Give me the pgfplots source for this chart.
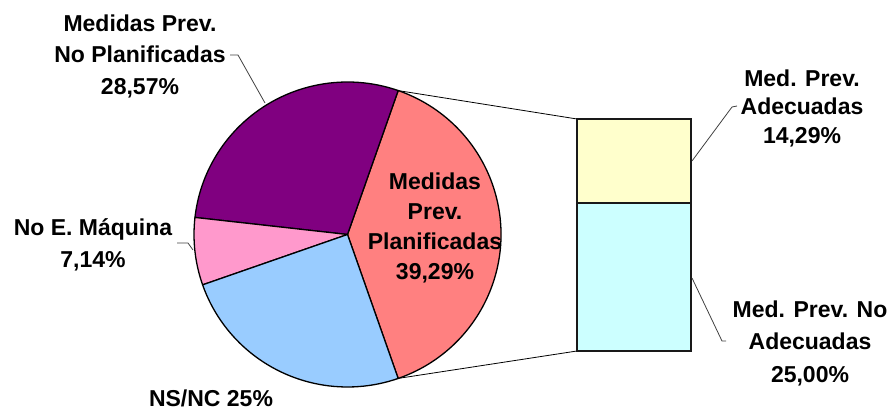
\documentclass[border=0pt]{standalone}
\usepackage{pgfplots}
\pgfplotsset{compat=1.18}
\usepackage{fontspec}
\setmainfont{Liberation Sans}
\definecolor{cSal}{HTML}{FF8080}
\definecolor{cPur}{HTML}{800080}
\definecolor{cPnk}{HTML}{FF99CC}
\definecolor{cBlu}{HTML}{99CCFF}
\definecolor{cYel}{HTML}{FFFFCC}
\definecolor{cCya}{HTML}{CCFFFF}
% data (percent)
\def\vPlan{39.29}
\def\vNoPlan{28.57}
\def\vNoE{7.14}
\def\vNS{25.00}
\pgfmathsetmacro{\aA}{\vPlan*1.8}
\pgfmathsetmacro{\aB}{\aA+\vNoPlan*3.6}
\pgfmathsetmacro{\aC}{\aB+\vNoE*3.6}
\pgfmathsetmacro{\aD}{\aC+\vNS*3.6}
\pgfmathsetmacro{\aAneg}{-\aA}
\newcommand{\slice}[3]{%
  \filldraw[fill=#1, draw=black, line width=1.3pt, line join=round]
    (axis cs:347.5,177.5) -- ++(#2:153.5pt and 152.5pt)
    arc[start angle=#2, end angle=#3, x radius=153.5pt, y radius=152.5pt] -- cycle;}
\begin{document}
\begin{tikzpicture}
\begin{axis}[scale only axis, width=895pt, height=412pt,
  xmin=0, xmax=895, ymin=0, ymax=412, hide axis, clip=false]
% connector lines
\draw[line width=0.8pt, black] (axis cs:398.2,321.4) -- (axis cs:577,293);
\draw[line width=0.8pt, black] (axis cs:398.2,33.6) -- (axis cs:577,61);
% pie
\slice{cSal}{\aAneg}{\aA}
\slice{cPur}{\aA}{\aB}
\slice{cPnk}{\aB}{\aC}
\slice{cBlu}{\aC}{\aD}
% bar of pie: 14.29 / 39.29 of the bar height (232)
\addplot[fill=cCya, draw=black!90, line width=1.8pt] coordinates {(577,61) (691,61) (691,208.6) (577,208.6)} -- cycle;
\addplot[fill=cYel, draw=black!90, line width=1.8pt] coordinates {(577,208.6) (691,208.6) (691,293) (577,293)} -- cycle;
% leader lines
\draw[line width=0.8pt, black!75] (axis cs:230,357) -- (axis cs:238,357) -- (axis cs:265,309);
\draw[line width=0.8pt, black!75] (axis cs:177,169) -- (axis cs:188,169) -- (axis cs:193,162);
\draw[line width=0.8pt, black!75] (axis cs:692,251) -- (axis cs:732,305) -- (axis cs:737,306);
\draw[line width=0.8pt, black!75] (axis cs:692,134) -- (axis cs:722,71) -- (axis cs:726,71);
% labels
\tikzset{lbl/.style={align=center, inner sep=0pt, font=\fontsize{23}{31.5}\selectfont\bfseries}}
\node[lbl] at (axis cs:140,356) {Medidas Prev.\\No Planificadas\\28,57\%};
\node[lbl] at (axis cs:93,167) {No E. Máquina\\7,14\%};
\node[lbl] at (axis cs:211,14) {NS/NC 25\%};
\node[lbl, font=\fontsize{23}{30}\selectfont\bfseries] at (axis cs:435,184) {Medidas\\Prev.\\Planificadas\\39,29\%};
\node[lbl, font=\fontsize{23}{28.5}\selectfont\bfseries] at (axis cs:802,304) {Med. Prev.\\Adecuadas\\14,29\%};
\node[lbl, font=\fontsize{23}{32.5}\selectfont\bfseries] at (axis cs:810,69) {Med. Prev. No\\Adecuadas\\25,00\%};
\end{axis}
\pgfresetboundingbox
\path (0,0) rectangle (895pt,412pt);
\end{tikzpicture}
\end{document}
